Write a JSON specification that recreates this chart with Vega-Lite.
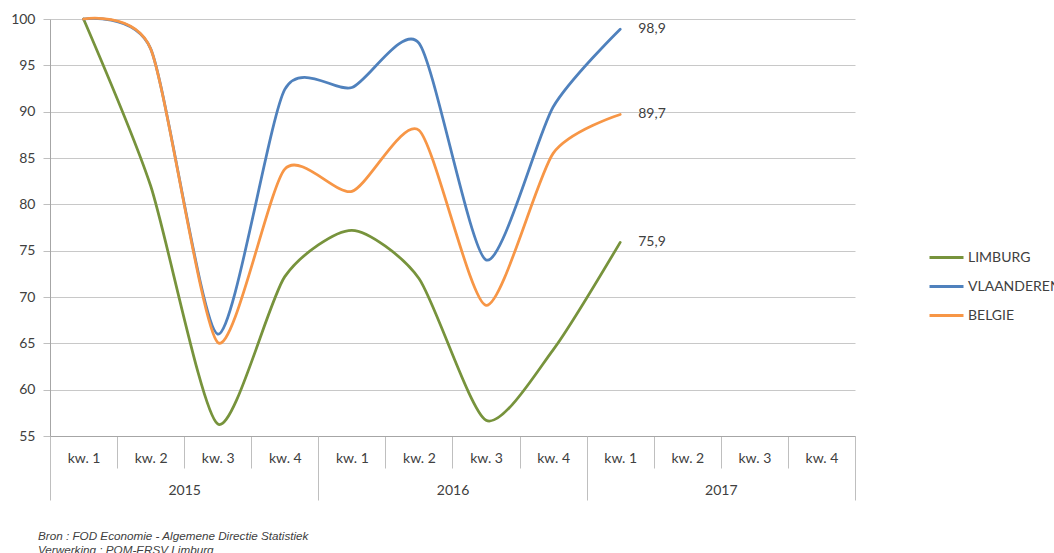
{
  "$schema": "https://vega.github.io/schema/vega-lite/v6.json",
  "description": "Index per kwartaal: Limburg, Vlaanderen, Belgie (2015 kw. 1 = 100)",
  "autosize": "none",
  "padding": {"left": 50, "top": 19, "right": 199, "bottom": 117},
  "width": 805,
  "height": 417,
  "background": "white",
  "title": {
    "text": ["Bron : FOD Economie - Algemene Directie Statistiek", "Verwerking : POM-ERSV Limburg"],
    "orient": "bottom",
    "anchor": "start",
    "frame": "group",
    "dx": -12,
    "offset": 30,
    "font": "Liberation Sans",
    "fontSize": 11.7,
    "fontStyle": "italic",
    "fontWeight": "normal",
    "color": "#404040",
    "lineHeight": 14
  },
  "config": {
    "locale": {"number": {"decimal": ",", "thousands": ".", "grouping": [3], "currency": ["€", ""]}},
    "view": {"stroke": null},
    "font": "Lato",
    "axis": {"labelFont": "Lato", "labelFontSize": 14, "labelColor": "#404040", "domainColor": "#a6a6a6", "tickColor": "#bfbfbf"}
  },
  "data": {
    "values": [
      {"period": "2015 kw. 1", "year": "2015", "region": "LIMBURG", "value": 100},
      {"period": "2015 kw. 2", "year": "2015", "region": "LIMBURG", "value": 82},
      {"period": "2015 kw. 3", "year": "2015", "region": "LIMBURG", "value": 56.3},
      {"period": "2015 kw. 4", "year": "2015", "region": "LIMBURG", "value": 72.2},
      {"period": "2016 kw. 1", "year": "2016", "region": "LIMBURG", "value": 77.2},
      {"period": "2016 kw. 2", "year": "2016", "region": "LIMBURG", "value": 72.0},
      {"period": "2016 kw. 3", "year": "2016", "region": "LIMBURG", "value": 56.7},
      {"period": "2016 kw. 4", "year": "2016", "region": "LIMBURG", "value": 64.3},
      {"period": "2017 kw. 1", "year": "2017", "region": "LIMBURG", "value": 75.9},
      {"period": "2015 kw. 1", "year": "2015", "region": "VLAANDEREN", "value": 100},
      {"period": "2015 kw. 2", "year": "2015", "region": "VLAANDEREN", "value": 96.8},
      {"period": "2015 kw. 3", "year": "2015", "region": "VLAANDEREN", "value": 66.0},
      {"period": "2015 kw. 4", "year": "2015", "region": "VLAANDEREN", "value": 92.4},
      {"period": "2016 kw. 1", "year": "2016", "region": "VLAANDEREN", "value": 92.6},
      {"period": "2016 kw. 2", "year": "2016", "region": "VLAANDEREN", "value": 97.4},
      {"period": "2016 kw. 3", "year": "2016", "region": "VLAANDEREN", "value": 74.0},
      {"period": "2016 kw. 4", "year": "2016", "region": "VLAANDEREN", "value": 90.5},
      {"period": "2017 kw. 1", "year": "2017", "region": "VLAANDEREN", "value": 98.9},
      {"period": "2015 kw. 1", "year": "2015", "region": "BELGIE", "value": 100},
      {"period": "2015 kw. 2", "year": "2015", "region": "BELGIE", "value": 96.8},
      {"period": "2015 kw. 3", "year": "2015", "region": "BELGIE", "value": 65.1},
      {"period": "2015 kw. 4", "year": "2015", "region": "BELGIE", "value": 83.8},
      {"period": "2016 kw. 1", "year": "2016", "region": "BELGIE", "value": 81.4},
      {"period": "2016 kw. 2", "year": "2016", "region": "BELGIE", "value": 88.0},
      {"period": "2016 kw. 3", "year": "2016", "region": "BELGIE", "value": 69.1},
      {"period": "2016 kw. 4", "year": "2016", "region": "BELGIE", "value": 85.5},
      {"period": "2017 kw. 1", "year": "2017", "region": "BELGIE", "value": 89.7}
    ]
  },
  "layer": [
    {
      "encoding": {
        "x": {
          "field": "period",
          "type": "nominal",
          "bandPosition": 0.5,
          "scale": {
            "type": "band",
            "paddingInner": 0,
            "paddingOuter": 0,
            "domain": ["2015 kw. 1", "2015 kw. 2", "2015 kw. 3", "2015 kw. 4", "2016 kw. 1", "2016 kw. 2", "2016 kw. 3", "2016 kw. 4", "2017 kw. 1", "2017 kw. 2", "2017 kw. 3", "2017 kw. 4"]
          },
          "axis": {
            "title": null,
            "orient": "bottom",
            "tickBand": "extent",
            "tickSize": 32,
            "labelPadding": -17,
            "labelAngle": 0,
            "labelExpr": "slice(datum.label, 5)",
            "labelOverlap": false,
            "grid": false
          }
        },
        "y": {
          "field": "value",
          "type": "quantitative",
          "scale": {"domain": [55, 100], "nice": false, "zero": false},
          "axis": {
            "title": null,
            "values": [55, 60, 65, 70, 75, 80, 85, 90, 95, 100],
            "tickSize": 7,
            "labelPadding": 8,
            "grid": true,
            "gridColor": "#c8c8c8",
            "domain": true
          }
        }
      },
      "layer": [
        {
          "mark": {"type": "line", "interpolate": "cardinal", "tension": 0.3, "strokeWidth": 2.75, "strokeCap": "round"},
          "encoding": {
            "color": {
              "field": "region",
              "type": "nominal",
              "scale": {"domain": ["LIMBURG", "VLAANDEREN", "BELGIE"], "range": ["#77933C", "#4F81BD", "#F79646"]},
              "legend": {
                "title": null,
                "orient": "none",
                "legendX": 878,
                "legendY": 220,
                "padding": 0,
                "symbolType": "stroke",
                "symbolSize": 1156,
                "symbolStrokeWidth": 3,
                "labelFont": "Lato",
                "labelFontSize": 14,
                "labelColor": "#404040",
                "labelOffset": 3,
                "rowPadding": 3,
                "labelLimit": 200
              }
            }
          }
        },
        {
          "transform": [{"filter": "datum.period == '2017 kw. 1'"}],
          "mark": {"type": "text", "align": "left", "baseline": "middle", "dx": 18, "fontSize": 14, "font": "Lato", "color": "#404040"},
          "encoding": {
            "text": {"field": "value", "type": "quantitative", "format": ".1f"}
          }
        }
      ]
    },
    {
      "mark": {"type": "point", "opacity": 0},
      "encoding": {
        "x": {
          "field": "year",
          "type": "nominal",
          "scale": {"type": "band", "paddingInner": 0, "paddingOuter": 0, "domain": ["2015", "2016", "2017"]},
          "axis": {
            "title": null,
            "orient": "bottom",
            "domain": false,
            "tickBand": "extent",
            "tickSize": 64,
            "labelPadding": -17,
            "labelAngle": 0,
            "grid": false
          }
        },
        "y": {"field": "value", "type": "quantitative"}
      }
    }
  ],
  "resolve": {"scale": {"x": "independent"}, "axis": {"x": "independent"}}
}
